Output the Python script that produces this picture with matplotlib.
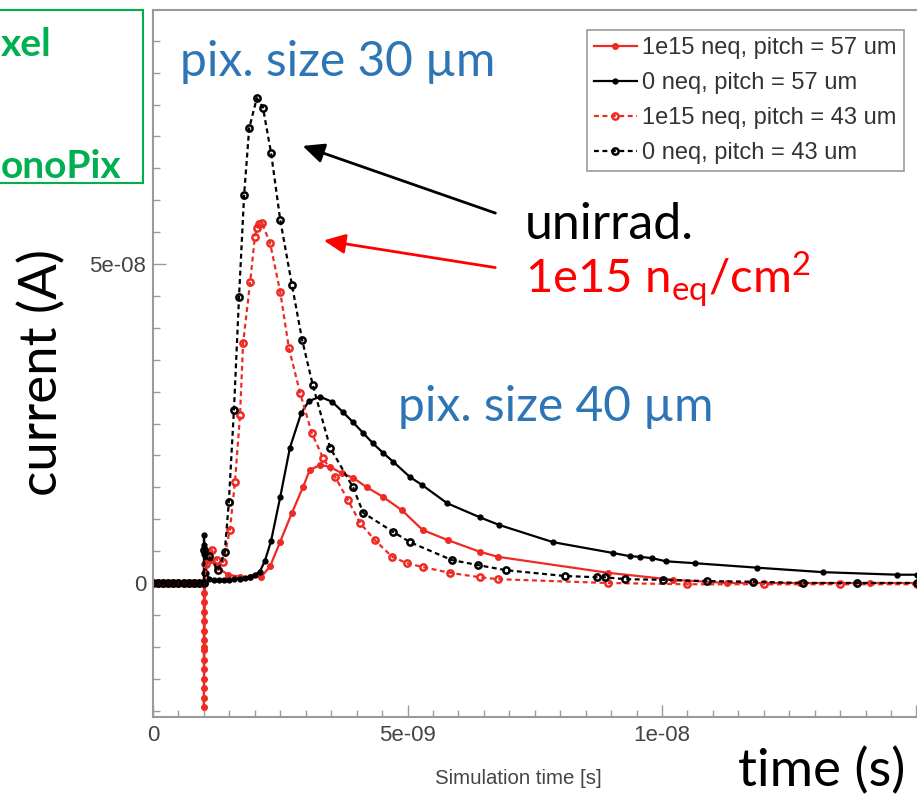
import matplotlib.pyplot as plt
from matplotlib.patches import Rectangle, FancyArrowPatch
from matplotlib.ticker import MultipleLocator

W, H = 917, 798

# Data: time in ns, current in units of 1e-8 A
t_red57 = [0.0, 0.1, 0.2, 0.3, 0.4, 0.5, 0.6, 0.7, 0.8, 0.9, 1.0,
           1.0, 1.0, 1.0, 1.0, 1.0, 1.0, 1.0, 1.0, 1.0, 1.0, 1.0, 1.0, 1.0,
           1.01, 1.02, 1.03, 1.14, 1.26, 1.47, 1.70, 1.90, 2.13, 2.30, 2.50,
           2.73, 2.95, 3.08, 3.28, 3.48, 3.71, 3.93, 4.20, 4.52, 4.89, 5.30,
           5.80, 6.42, 6.78, 8.94, 10.22, 11.28, 12.71, 14.09, 15.0]
i_red57 = [0, 0, 0, 0, 0, 0, 0, 0, 0, 0, 0,
           -0.15, -0.3, -0.45, -0.6, -0.75, -0.9, -1.05, -1.2, -1.35, -1.5, -1.65, -1.8, -1.94,
           -1.0, 0.0, 0.52, 0.36, 0.25, 0.13, 0.10, 0.09, 0.10, 0.26, 0.65,
           1.10, 1.51, 1.77, 1.85, 1.82, 1.72, 1.65, 1.50, 1.35, 1.14, 0.83,
           0.67, 0.49, 0.41, 0.16, 0.05, 0.0, 0.0, 0.0, 0.0]

t_blk57 = [0.0, 0.1, 0.2, 0.3, 0.4, 0.5, 0.6, 0.7, 0.8, 0.9, 1.0,
           1.0, 1.0, 1.0, 1.0, 1.0, 1.02, 1.05, 1.1, 1.2, 1.3, 1.4, 1.5, 1.6,
           1.7, 1.8, 1.9, 2.0, 2.1, 2.2, 2.32, 2.50, 2.69, 2.91, 3.06, 3.28,
           3.52, 3.73, 3.93, 4.13, 4.32, 4.52, 4.72, 5.05, 5.28, 5.78, 6.42,
           6.80, 7.86, 9.04, 9.37, 9.57, 9.80, 10.08, 10.65, 11.87, 13.16, 14.62, 15.0]
i_blk57 = [0, 0, 0, 0, 0, 0, 0, 0, 0, 0, 0,
           0.15, 0.3, 0.45, 0.6, 0.75, 0.45, 0.15, 0.06, 0.05, 0.05, 0.05, 0.05, 0.06,
           0.07, 0.08, 0.10, 0.13, 0.18, 0.35, 0.66, 1.35, 2.12, 2.66, 2.85, 2.92,
           2.84, 2.68, 2.52, 2.35, 2.19, 2.04, 1.90, 1.66, 1.54, 1.25, 1.03,
           0.91, 0.64, 0.47, 0.42, 0.41, 0.39, 0.34, 0.31, 0.24, 0.17, 0.13, 0.13]

t_red43 = [0.0, 0.1, 0.2, 0.3, 0.4, 0.5, 0.6, 0.7, 0.8, 0.9, 1.0,
           1.05, 1.15, 1.26, 1.38, 1.51, 1.61, 1.71, 1.77, 1.91, 2.00, 2.04,
           2.09, 2.14, 2.30, 2.50, 2.67, 2.89, 3.12, 3.34, 3.58, 3.83, 4.07,
           4.36, 4.70, 4.99, 5.30, 5.83, 6.42, 6.78, 8.94, 10.5, 12.0, 13.5, 15.0]
i_red43 = [0, 0, 0, 0, 0, 0, 0, 0, 0, 0, 0,
           0.30, 0.52, 0.36, 0.33, 0.83, 1.58, 2.63, 3.76, 4.72, 5.42, 5.56,
           5.62, 5.64, 5.33, 4.56, 3.68, 2.98, 2.35, 1.96, 1.66, 1.30, 0.94,
           0.67, 0.41, 0.31, 0.25, 0.16, 0.09, 0.06, 0.0, -0.02, -0.02, -0.02, -0.02]

t_blk43 = [0.0, 0.1, 0.2, 0.3, 0.4, 0.5, 0.6, 0.7, 0.8, 0.9, 1.0,
           1.0, 1.10, 1.28, 1.41, 1.49, 1.59, 1.69, 1.79, 1.89, 2.04, 2.16,
           2.32, 2.50, 2.73, 2.93, 3.14, 3.48, 3.93, 4.13, 4.72, 5.05, 5.87,
           6.39, 6.94, 8.09, 8.72, 8.88, 9.27, 10.02, 10.88, 11.79, 12.77, 13.83, 15.0]
i_blk43 = [0, 0, 0, 0, 0, 0, 0, 0, 0, 0, 0,
           0.52, 0.42, 0.20, 0.49, 1.27, 2.71, 4.48, 6.08, 7.13, 7.60, 7.45,
           6.74, 5.69, 4.67, 3.81, 3.10, 2.12, 1.50, 1.10, 0.80, 0.64, 0.36,
           0.28, 0.20, 0.11, 0.09, 0.09, 0.06, 0.05, 0.03, 0.02, 0.0, 0.0, 0.0]

labels = ['1e15 neq, pitch = 57 um', '0 neq, pitch = 57 um',
          '1e15 neq, pitch = 43 um', '0 neq, pitch = 43 um']

RED = '#ee2a24'
GRAY = '#9a9a9a'

fig = plt.figure(figsize=(W / 100, H / 100), dpi=100)
ax = fig.add_axes([153 / W, 1 - 717 / H, (930 - 153) / W, (717 - 10) / H])

ns, amp = 1e-9, 1e-8
dash = (0, (2.2, 1.6))
ax.plot([t * ns for t in t_red57], [v * amp for v in i_red57], color=RED, lw=1.6,
        marker='o', ms=4, label=labels[0])
ax.plot([t * ns for t in t_blk57], [v * amp for v in i_blk57], color='black', lw=1.6,
        marker='o', ms=3.5, label=labels[1])
ax.plot([t * ns for t in t_red43], [v * amp for v in i_red43], color=RED, lw=1.6,
        ls=dash, marker='o', ms=4.5, mfc='none', mew=1.8, label=labels[2])
ax.plot([t * ns for t in t_blk43], [v * amp for v in i_blk43], color='black', lw=1.6,
        ls=dash, marker='o', ms=4.5, mfc='none', mew=1.8, label=labels[3])

ax.set_xlim(0, (930 - 153) / 50.9 * ns)
ax.set_ylim(-(717 - 583) / 63.8 * amp, (583 - 10) / 63.8 * amp)

ax.set_xticks([0, 5e-9, 1e-8, 1.5e-8])
ax.set_xticklabels(['0', '5e-09', '1e-08', ''])
ax.set_yticks([0, 5e-8])
ax.set_yticklabels(['0', '5e-08'])
ax.xaxis.set_minor_locator(MultipleLocator(5e-10))
ax.yaxis.set_minor_locator(MultipleLocator(5e-9))
ax.tick_params(which='both', direction='in', color=GRAY, labelcolor='#444444',
               labelsize=16, width=1)
ax.tick_params(which='major', length=9)
ax.tick_params(which='minor', length=5)
ax.tick_params(axis='x', pad=6)
ax.tick_params(axis='y', pad=5)
for lab in ax.get_xticklabels() + ax.get_yticklabels():
    lab.set_fontfamily('Liberation Sans')
for s in ax.spines.values():
    s.set_color(GRAY)
    s.set_linewidth(1.5)

leg = ax.legend(loc='upper right', bbox_to_anchor=(904 / W, 1 - 30 / H),
                bbox_transform=fig.transFigure, borderaxespad=0,
                prop={'family': 'Liberation Sans', 'size': 17},
                handlelength=1.8, handletextpad=0.25, labelspacing=0.55,
                fancybox=False, edgecolor=GRAY, framealpha=1, borderpad=0.3)
for txt in leg.get_texts():
    txt.set_color('#333333')
leg.get_frame().set_linewidth(1.2)

fig.text(518 / W, 1 - 778 / H, 'Simulation time [s]', ha='center', va='center',
         fontsize=14.7, color='#444444', family='Liberation Sans')

# slide annotations
def fxy(x, y):
    return x / W, 1 - y / H

fig.text(*fxy(180, 62), 'pix. size 30 µm', color='#2e75b6', fontsize=34.5,
         family='Lato', ha='left', va='center')
fig.text(*fxy(398, 407), 'pix. size 40 µm', color='#2e75b6', fontsize=34.5,
         family='Lato', ha='left', va='center')
fig.text(*fxy(525, 225), 'unirrad.', color='black', fontsize=36,
         family='Lato', ha='left', va='center')
fig.text(*fxy(525, 280), r'1e15 n$_{\mathregular{eq}}$/cm$^{\mathregular{2}}$', color='red',
         fontsize=34, family='Lato', ha='left', va='center')
fig.text(*fxy(42, 372), 'current (A)', color='black', fontsize=38, family='Lato',
         rotation=90, ha='center', va='center')
fig.text(*fxy(905, 771), 'time (s)', color='black', fontsize=38, family='Lato',
         ha='right', va='center')

fig.patches.append(Rectangle((-20, H - 183), 20 + 143, 173, transform=None,
                             fill=False, edgecolor='#00b050', lw=1.5))
fig.text(*fxy(1, 45), 'xel', color='#00b050', fontsize=28, fontweight='bold',
         family='Lato', ha='left', va='center')
fig.text(*fxy(1, 167), 'onoPix', color='#00b050', fontsize=28, fontweight='bold',
         family='Lato', ha='left', va='center')

for (x0, y0, x1, y1, c) in [(498, 214, 300, 145, 'black'), (498, 268, 321, 240, 'red')]:
    fig.patches.append(FancyArrowPatch(fxy(x0, y0), fxy(x1, y1), transform=fig.transFigure,
                                       arrowstyle='-|>,head_length=13,head_width=6',
                                       mutation_scale=1, color=c, lw=2))

fig.savefig('out.png', dpi=100, facecolor='white')
